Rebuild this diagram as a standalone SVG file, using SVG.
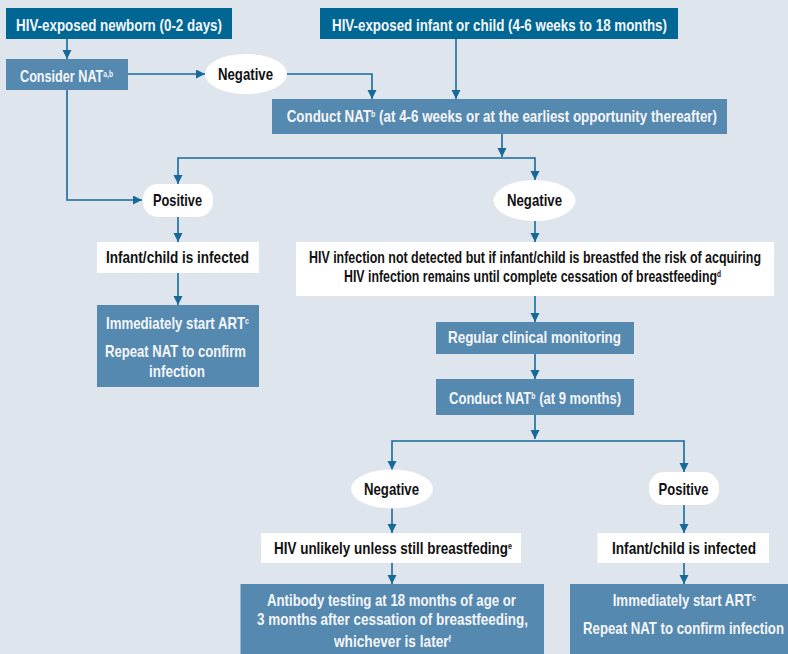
<svg xmlns="http://www.w3.org/2000/svg" width="788" height="654" viewBox="0 0 788 654">
<defs>
<style>
.bg{fill:#dfe5ed}
.dark{fill:#006694}
.mid{fill:#5689b0}
.wbox{fill:#ffffff}
.t{font-family:"Liberation Sans","Arial",sans-serif;font-weight:bold;font-size:17px}
.sup{font-size:9px}
.tw{fill:#f4f6f8}
.tk{fill:#111111}
.conn path{fill:none;stroke:#17699a;stroke-width:1.6}
</style>
<marker id="ah" markerUnits="userSpaceOnUse" markerWidth="9" markerHeight="10" refX="9" refY="4.5" orient="auto">
<path d="M0,0 L9,4.5 L0,9 z" fill="#17699a"/>
</marker>
</defs>
<rect class="bg" x="0" y="0" width="788" height="654"/>

<g class="conn">
<path d="M67,39 V59" marker-end="url(#ah)"/>
<path d="M128,74 H205" marker-end="url(#ah)"/>
<path d="M287,74 H372 V99" marker-end="url(#ah)"/>
<path d="M456,39 V99" marker-end="url(#ah)"/>
<path d="M67,90 V200 H142" marker-end="url(#ah)"/>
<path d="M502,134 V157" marker-end="url(#ah)"/>
<path d="M502,158 H178 V184" marker-end="url(#ah)"/>
<path d="M502,158 H535 V180" marker-end="url(#ah)"/>
<path d="M178,217 V242" marker-end="url(#ah)"/>
<path d="M178,273 V305" marker-end="url(#ah)"/>
<path d="M535,221 V242" marker-end="url(#ah)"/>
<path d="M535,296 V322" marker-end="url(#ah)"/>
<path d="M535,354 V379" marker-end="url(#ah)"/>
<path d="M535,415 V439" marker-end="url(#ah)"/>
<path d="M535,441 H392 V470" marker-end="url(#ah)"/>
<path d="M535,441 H684 V472" marker-end="url(#ah)"/>
<path d="M392,508 V533" marker-end="url(#ah)"/>
<path d="M684,505 V533" marker-end="url(#ah)"/>
<path d="M392,563 V584" marker-end="url(#ah)"/>
<path d="M684,563 V584" marker-end="url(#ah)"/>
</g>

<g id="newborn">
<rect class="dark" x="6" y="8" width="226" height="31"/>
<text class="t tw" x="16" y="30.5" textLength="206" lengthAdjust="spacingAndGlyphs">HIV-exposed newborn (0-2 days)</text>
</g>
<g id="infant">
<rect class="dark" x="320" y="8" width="358" height="31"/>
<text class="t tw" x="332" y="30.5" textLength="335" lengthAdjust="spacingAndGlyphs">HIV-exposed infant or child (4-6 weeks to 18 months)</text>
</g>
<g id="consider">
<rect class="mid" x="6" y="59" width="122" height="31"/>
<text class="t tw" x="20" y="81.5" textLength="93" lengthAdjust="spacingAndGlyphs">Consider NAT<tspan class="sup" baseline-shift="5">a,b</tspan></text>
</g>
<g id="neg1">
<ellipse class="wbox" cx="246" cy="74" rx="41" ry="20"/>
<text class="t tk" x="218" y="79.5" textLength="55" lengthAdjust="spacingAndGlyphs">Negative</text>
</g>
<g id="conduct1">
<rect class="mid" x="272" y="99" width="455" height="35"/>
<text class="t tw" x="286.7" y="122.3" textLength="430.3" lengthAdjust="spacingAndGlyphs">Conduct NAT<tspan class="sup" baseline-shift="5">b</tspan> (at 4-6 weeks or at the earliest opportunity thereafter)</text>
</g>
<g id="pos1">
<rect class="wbox" x="143" y="184" width="70" height="33" rx="15"/>
<text class="t tk" x="153" y="206" textLength="49" lengthAdjust="spacingAndGlyphs">Positive</text>
</g>
<g id="neg2">
<ellipse class="wbox" cx="534.5" cy="200.5" rx="41" ry="20.5"/>
<text class="t tk" x="507" y="206" textLength="55" lengthAdjust="spacingAndGlyphs">Negative</text>
</g>
<g id="infected1">
<rect class="wbox" x="97" y="242" width="162" height="31"/>
<text class="t tk" x="106" y="263.3" textLength="143" lengthAdjust="spacingAndGlyphs">Infant/child is infected</text>
</g>
<g id="art1">
<rect class="mid" x="97" y="305" width="162" height="82"/>
<text class="t tw" x="106" y="329" textLength="143" lengthAdjust="spacingAndGlyphs">Immediately start ART<tspan class="sup" baseline-shift="5">c</tspan></text>
<text class="t tw" x="105" y="357" textLength="141" lengthAdjust="spacingAndGlyphs">Repeat NAT to confirm</text>
<text class="t tw" x="149" y="377" textLength="56" lengthAdjust="spacingAndGlyphs">infection</text>
</g>
<g id="notdetected">
<rect class="wbox" x="296" y="242" width="478" height="54"/>
<text class="t tk" x="309" y="262.7" textLength="452" lengthAdjust="spacingAndGlyphs">HIV infection not detected but if infant/child is breastfed the risk of acquiring</text>
<text class="t tk" x="344" y="281.7" textLength="377" lengthAdjust="spacingAndGlyphs">HIV infection remains until complete cessation of breastfeeding<tspan class="sup" baseline-shift="5">d</tspan></text>
</g>
<g id="monitoring">
<rect class="mid" x="436" y="322" width="198" height="32"/>
<text class="t tw" x="448" y="342.7" textLength="173" lengthAdjust="spacingAndGlyphs">Regular clinical monitoring</text>
</g>
<g id="conduct9">
<rect class="mid" x="436" y="379" width="198" height="36"/>
<text class="t tw" x="449" y="404" textLength="172" lengthAdjust="spacingAndGlyphs">Conduct NAT<tspan class="sup" baseline-shift="5">b</tspan> (at 9 months)</text>
</g>
<g id="neg3">
<ellipse class="wbox" cx="392" cy="489" rx="41" ry="19.5"/>
<text class="t tk" x="364" y="494.5" textLength="55" lengthAdjust="spacingAndGlyphs">Negative</text>
</g>
<g id="pos3">
<rect class="wbox" x="649" y="472" width="70" height="33" rx="15"/>
<text class="t tk" x="658.5" y="494.5" textLength="50" lengthAdjust="spacingAndGlyphs">Positive</text>
</g>
<g id="unlikely">
<rect class="wbox" x="261" y="533" width="260" height="30"/>
<text class="t tk" x="274" y="553.5" textLength="238" lengthAdjust="spacingAndGlyphs">HIV unlikely unless still breastfeding<tspan class="sup" baseline-shift="5">e</tspan></text>
</g>
<g id="infected2">
<rect class="wbox" x="597.5" y="533" width="171.5" height="30"/>
<text class="t tk" x="612" y="553.5" textLength="144" lengthAdjust="spacingAndGlyphs">Infant/child is infected</text>
</g>
<g id="antibody">
<rect class="mid" x="240.5" y="584" width="303.5" height="75"/>
<text class="t tw" x="267" y="605.5" textLength="249" lengthAdjust="spacingAndGlyphs">Antibody testing at 18 months of age or</text>
<text class="t tw" x="257" y="625" textLength="271" lengthAdjust="spacingAndGlyphs">3 months after cessation of breastfeeding,</text>
<text class="t tw" x="334" y="646.7" textLength="117" lengthAdjust="spacingAndGlyphs">whichever is later<tspan class="sup" baseline-shift="5">f</tspan></text>
</g>
<g id="art2">
<rect class="mid" x="570" y="584" width="218" height="75"/>
<text class="t tw" x="612.7" y="605.7" textLength="143.3" lengthAdjust="spacingAndGlyphs">Immediately start ART<tspan class="sup" baseline-shift="5">c</tspan></text>
<text class="t tw" x="583" y="634" textLength="201" lengthAdjust="spacingAndGlyphs">Repeat NAT to confirm infection</text>
</g>
</svg>
